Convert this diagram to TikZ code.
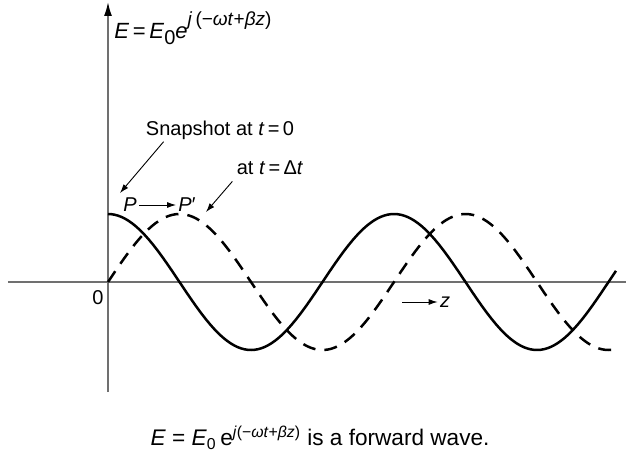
\documentclass[tikz,border=0pt]{standalone}
\usepackage{fontspec}
\setmainfont{Liberation Sans}
\usetikzlibrary{arrows.meta}
\definecolor{axisgray}{RGB}{112,112,112}

\begin{document}
\begin{tikzpicture}[
    x=0.5pt, y=0.5pt,
    axis/.style={draw=axisgray,line width=0.8pt},
    wave/.style={line width=1.25pt,smooth,samples=150},
    lbl/.style={font=\fontsize{10}{12}\selectfont,inner sep=1pt},
    pointer/.style={-{Latex[length=4.5pt,width=3pt]},line width=0.45pt}
  ]
  \useasboundingbox (-108,-168) rectangle (518,282);
  % axes
  \coordinate (xstart) at (-100,0);
  \coordinate (xend) at (518,0);
  \coordinate (ybot) at (0,-110);
  \coordinate (ytop) at (0,280);
  \draw[axis] (xstart) -- (xend);
  \draw[axis,-{Latex[length=7pt,width=4pt,color=black]}] (ybot) -- (ytop);
  % snapshot at t=0 and at t=dt (period 286)
  \draw[wave] plot[domain=0:508] (\x,{68*cos(1.25874*\x)});
  \draw[wave,dash pattern=on 6.5pt off 4.5pt] plot[domain=0:504] (\x,{68*sin(1.25874*\x)});
  % labels
  \node[font=\fontsize{11}{13}\selectfont,anchor=base west,inner sep=0pt] (field) at (6,243)
    {\textit{E}\,=\,\textit{E}\raisebox{-0.45ex}{\fontsize{10}{12}\selectfont 0}\textit{e}\raisebox{1.15ex}{\fontsize{9.5}{10}\selectfont\textit{j}\,(−\textit{ωt}+\textit{βz})}};
  \node[lbl] (snap) at (112,152) {Snapshot at \textit{t}\,=\,0};
  \node[lbl] (later) at (162,114) {at \textit{t}\,=\,Δ\textit{t}};
  \node[lbl] (p) at (22,77) {\textit{P}};
  \node[lbl] (pp) at (79,77) {\textit{P}′};
  \node[lbl] (zero) at (-10,-16) {0};
  \node[lbl] (zlabel) at (337,-20) {\textit{z}};
  \coordinate (snaptip) at (12,89);
  \coordinate (latertip) at (98,70);
  \coordinate (ztail) at (294,-20);
  \draw[pointer] ([xshift=10pt]snap.south west) -- (snaptip);
  \draw[pointer] ([xshift=-1pt,yshift=-2pt]later.south west) -- (latertip);
  \draw[pointer] (p) -- (pp);
  \draw[pointer] (ztail) -- (zlabel);
  % caption
  \node[font=\fontsize{11.3}{13}\selectfont] (caption) at (212,-156)
    {\textit{E} = \textit{E}\textsubscript{0}\,e\textsuperscript{\textit{j}(−\textit{ωt}+\textit{βz})} is a forward wave.};
\end{tikzpicture}
\end{document}
